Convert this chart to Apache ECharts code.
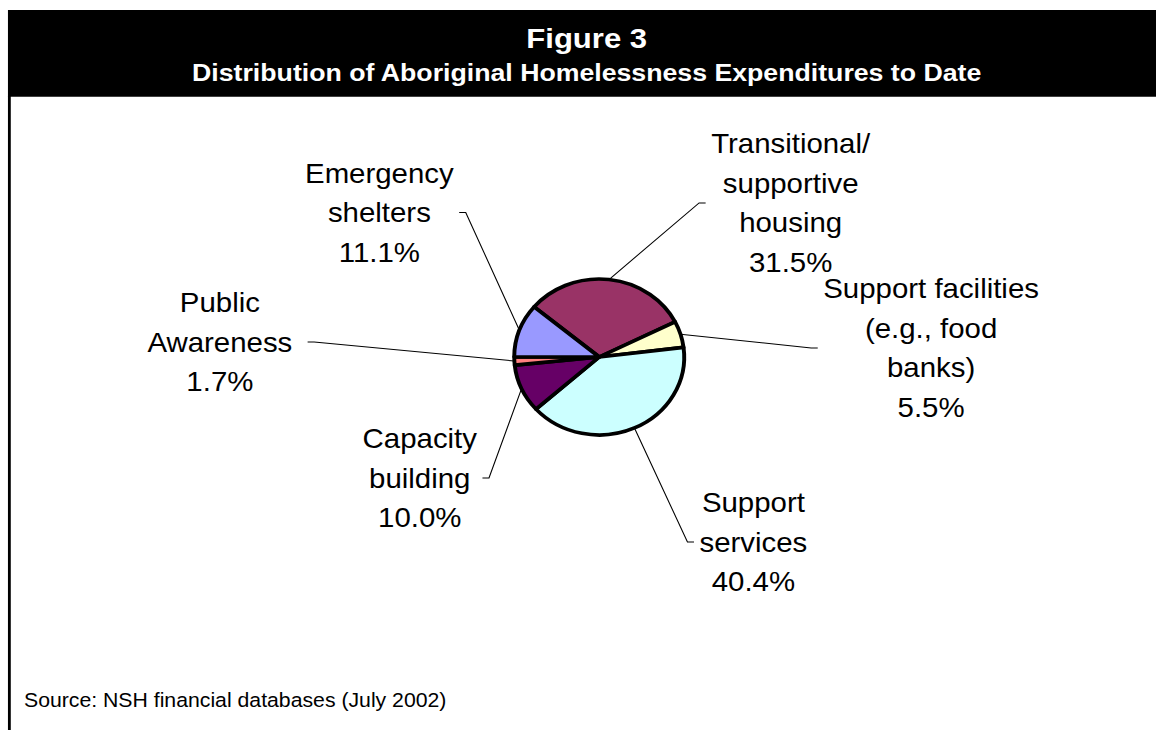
<!DOCTYPE html>
<html>
<head>
<meta charset="utf-8">
<title>Figure 3</title>
<script src="https://cdn.jsdelivr.net/npm/echarts@6/dist/echarts.min.js"></script>
<style>
  html, body { margin: 0; padding: 0; background: #ffffff; overflow: hidden; }
  /* the figure is laid out a little narrower and widened horizontally */
  #chart { width: 1061px; height: 730px; transform: scaleX(1.0895); transform-origin: 0 0; }
</style>
</head>
<body>
<div id="chart"></div>
<script>
// Expenditure categories (clockwise from the upper-left edge of the pie)
const categories = [
  'Transitional/\nsupportive\nhousing',
  'Support facilities\n(e.g., food\nbanks)',
  'Support\nservices',
  'Capacity\nbuilding',
  'Public\nAwareness',
  'Emergency\nshelters'
];
// Share of expenditures, percent
const shares = [31.5, 5.5, 40.4, 10.0, 1.7, 11.1];
const sliceColors = ['#993366', '#FFFFCC', '#CCFFFF', '#660066', '#FF8080', '#9999FF'];

const figureTitle = 'Figure 3';
const figureSubtitle = 'Distribution of Aboriginal Homelessness Expenditures to Date';
const sourceNote = 'Source: NSH financial databases (July 2002)';

// layout
const pieCenter = [550, 357];
const labelSpots = [
  [725.7, 203],
  [854.6, 348],
  [691.5, 542],
  [385.3, 478],
  [201.8, 342],
  [348.2, 212.5]
];
// extra space between a label and its leader line
const lineGaps = [5, 5, 5, 5, 14, 5];
const FONT = '"Liberation Sans", Arial, "DejaVu Sans", sans-serif';

const chart = echarts.init(document.getElementById('chart'), null, { renderer: 'svg' });

chart.setOption({
  animation: false,
  backgroundColor: '#ffffff',
  graphic: [
    { type: 'rect', shape: { x: 7.3, y: 10, width: 1060, height: 86.7 }, style: { fill: '#000000' }, silent: true },
    { type: 'rect', shape: { x: 7.3, y: 96, width: 2.6, height: 640 }, style: { fill: '#000000' }, silent: true },
    { type: 'text', x: 538.5, y: 38, style: { text: figureTitle, fill: '#ffffff', font: 'bold 28.5px ' + FONT, textAlign: 'center', textVerticalAlign: 'middle' } },
    { type: 'text', x: 538.5, y: 72.5, style: { text: figureSubtitle, fill: '#ffffff', font: 'bold 24.5px ' + FONT, textAlign: 'center', textVerticalAlign: 'middle' } },
    { type: 'text', x: 22, y: 700.5, style: { text: sourceNote, fill: '#000000', font: '19.5px ' + FONT, textAlign: 'left', textVerticalAlign: 'middle' } }
  ],
  series: [{
    type: 'pie',
    center: pieCenter,
    radius: 78,
    startAngle: 140,
    clockwise: true,
    avoidLabelOverlap: false,
    emphasis: { disabled: true },
    data: categories.map((name, i) => ({ name: name, value: shares[i], itemStyle: { color: sliceColors[i] } })),
    itemStyle: { borderColor: '#000000', borderWidth: 3.6 },
    label: {
      show: true,
      position: 'outside',
      formatter: (p) => p.name + '\n' + p.value.toFixed(1) + '%',
      color: '#000000',
      fontFamily: FONT,
      fontSize: 27,
      lineHeight: 39.5,
      align: 'center'
    },
    labelLine: {
      show: true,
      length: 10,
      length2: 6,
      smooth: false,
      lineStyle: { color: '#000000', width: 1 }
    },
    labelLayout: function (params) {
      const spot = labelSpots[params.dataIndex];
      const gap = lineGaps[params.dataIndex];
      const w = params.labelRect.width;
      const onRight = spot[0] > pieCenter[0];
      const edgeX = onRight ? spot[0] - w / 2 - gap : spot[0] + w / 2 + gap;
      const elbowX = onRight ? edgeX - 6 : edgeX + 6;
      const start = params.labelLinePoints ? params.labelLinePoints[0] : [elbowX, spot[1]];
      return {
        x: spot[0],
        y: spot[1],
        align: 'center',
        verticalAlign: 'middle',
        labelLinePoints: [start, [elbowX, spot[1]], [edgeX, spot[1]]]
      };
    }
  }]
});
</script>
</body>
</html>
